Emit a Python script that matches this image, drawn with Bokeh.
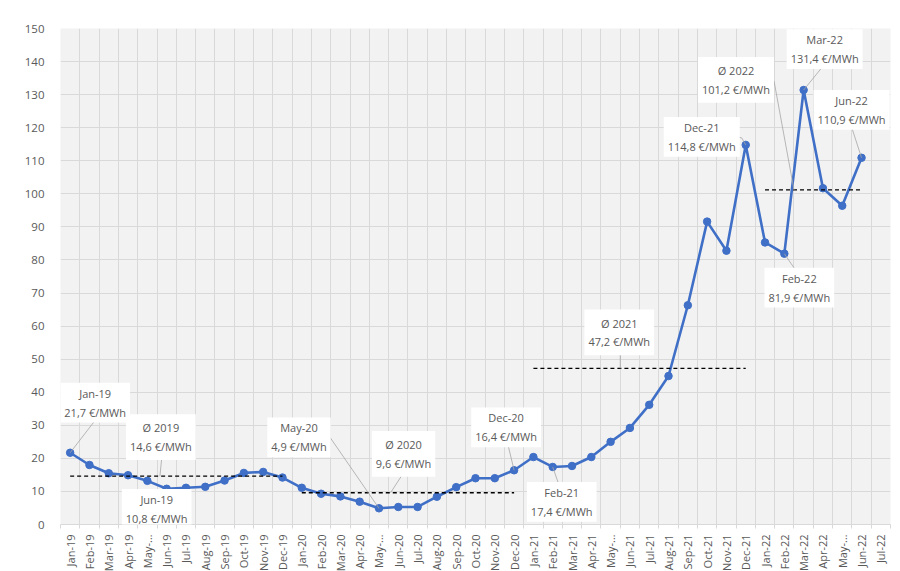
import math
from bokeh.plotting import figure
from bokeh.models import (Range1d, FixedTicker, Label, ColumnDataSource)
from bokeh.embed import file_html
from bokeh.resources import INLINE

# ---------------- data ----------------
months = ["Jan-19", "Feb-19", "Mar-19", "Apr-19", "May-19", "Jun-19", "Jul-19", "Aug-19",
          "Sep-19", "Oct-19", "Nov-19", "Dec-19",
          "Jan-20", "Feb-20", "Mar-20", "Apr-20", "May-20", "Jun-20", "Jul-20", "Aug-20",
          "Sep-20", "Oct-20", "Nov-20", "Dec-20",
          "Jan-21", "Feb-21", "Mar-21", "Apr-21", "May-21", "Jun-21", "Jul-21", "Aug-21",
          "Sep-21", "Oct-21", "Nov-21", "Dec-21",
          "Jan-22", "Feb-22", "Mar-22", "Apr-22", "May-22", "Jun-22", "Jul-22"]

# axis tick labels as shown (May labels truncated)
tick_labels = [("May-\u2026" if m.startswith("May") else m) for m in months]

prices = [21.7, 18.0, 15.5, 14.9, 13.2, 10.8, 11.1, 11.4, 13.3, 15.6, 15.9, 14.2,
          11.1, 9.3, 8.5, 6.9, 4.9, 5.3, 5.3, 8.4, 11.3, 14.0, 14.0, 16.4,
          20.4, 17.4, 17.7, 20.4, 25.0, 29.2, 36.2, 44.9, 66.3, 91.6, 82.8, 114.8,
          85.3, 81.9, 131.4, 101.7, 96.4, 110.9]

year_names = ["2019", "2020", "2021", "2022"]
year_avgs = [14.6, 9.6, 47.2, 101.2]
year_first = [0, 12, 24, 36]
year_last = [11, 23, 35, 41]

y_ticks = list(range(0, 151, 10))

# ---------------- layout ----------------
FW, FH = 830, 496
x_n = len(months)
sx = FW / x_n        # px per category
sy = FH / 150.0      # px per unit

p = figure(frame_width=FW, frame_height=FH, output_backend="svg", toolbar_location=None,
           x_range=Range1d(0, x_n), y_range=Range1d(0, 150),
           min_border_left=60, min_border_right=10, min_border_top=28, min_border_bottom=47,
           background_fill_color="#f2f2f2", border_fill_color="white",
           outline_line_color=None)

TICK_COLOR = "#595959"
FONT = "Open Sans"

# y axis
p.yaxis.ticker = FixedTicker(ticks=y_ticks)
p.yaxis.axis_line_color = None
p.yaxis.major_tick_line_color = None
p.yaxis.minor_tick_line_color = None
p.yaxis.major_label_text_color = TICK_COLOR
p.yaxis.major_label_text_font = FONT
p.yaxis.major_label_text_font_size = "11.5px"
p.yaxis.major_label_standoff = 10

# x axis
xcenters = [i + 0.5 for i in range(x_n)]
p.xaxis.ticker = FixedTicker(ticks=xcenters, minor_ticks=list(range(0, x_n + 1)))
p.xaxis.major_label_overrides = {c: m for c, m in zip(xcenters, tick_labels)}
p.xaxis.major_label_orientation = math.pi / 2
p.xaxis.axis_line_color = "#d9d9d9"
p.xaxis.major_tick_line_color = None
p.xaxis.minor_tick_line_color = "#d9d9d9"
p.xaxis.minor_tick_in = 0
p.xaxis.minor_tick_out = 4
p.xaxis.major_label_text_color = TICK_COLOR
p.xaxis.major_label_text_font = FONT
p.xaxis.major_label_text_font_size = "11px"
p.xaxis.major_label_standoff = 4

# grids
p.xgrid.ticker = FixedTicker(ticks=list(range(0, x_n + 1)))
p.xgrid.grid_line_color = "#d9d9d9"
p.ygrid.grid_line_color = "#d9d9d9"

# ---------------- series ----------------
xs = [i + 0.5 for i in range(len(prices))]
src = ColumnDataSource(dict(x=xs, y=prices))
p.line("x", "y", source=src, line_color="#3f6fc6", line_width=2.6)
p.scatter("x", "y", source=src, size=7.5, fill_color="#3f6fc6", line_color="#3f6fc6")

# yearly averages (dashed)
p.segment(x0=[year_first[k] + 0.5 for k in range(4)], y0=year_avgs,
          x1=[year_last[k] + 0.5 for k in range(4)], y1=year_avgs,
          line_color="black", line_dash="4 3", line_width=1.3)


def fmt(v):
    return ("%.1f" % v).replace(".", ",") + " \u20ac/MWh"


def month_ann(i, dx, dy, lx, ly, elbow=None):
    return (months[i] + "\n" + fmt(prices[i]), i + 0.5, prices[i], dx, dy, lx, ly, elbow, False)


def avg_ann(k, ax, dx, dy, lx, ly, elbow=None):
    return ("\u00d8 " + year_names[k] + "\n" + fmt(year_avgs[k]), ax, year_avgs[k], dx, dy, lx, ly, elbow, True)


# (box offset px from anchor, leader start px from box centre, optional elbow)
anns = [
    month_ann(0, 25, 50, 2, -15),
    avg_ann(0, 5.15, 1, 39, 1, -19),
    month_ann(5, -10, -20, 1, 14),
    month_ann(16, -80, 71, 31, 0),
    avg_ann(1, 17.1, 13, 39, 0, -19),
    month_ann(23, -8, 43, 1, -14),
    month_ann(25, 9, -35, -2, 15),
    avg_ann(2, 29.0, -1, 36, 1, -18),
    month_ann(35, -44, 8, 35, 0, (40, -1)),
    avg_ann(3, 38.0, -58, 110, 36, 0, (38, -1)),
    month_ann(38, 21, 41, 1, -14),
    month_ann(41, -10, 48, -1, -14),
    month_ann(37, 15, -34, -2, 15),
]

lx0, ly0, lx1, ly1 = [], [], [], []
for text, ax, ay, dx, dy, lx, ly, elbow, is_avg in anns:
    cx = ax + dx / sx
    cy = ay + dy / sy
    pts = [(cx + lx / sx, cy + ly / sy)]
    if elbow is not None:
        pts.append((cx + elbow[0] / sx, cy + elbow[1] / sy))
    pts.append((ax, ay))
    for a, b in zip(pts[:-1], pts[1:]):
        lx0.append(a[0]); ly0.append(a[1]); lx1.append(b[0]); ly1.append(b[1])

p.segment(x0=lx0, y0=ly0, x1=lx1, y1=ly1, line_color="#a6a6a6", line_width=0.8)

for text, ax, ay, dx, dy, lx, ly, elbow, is_avg in anns:
    lab = Label(x=ax, y=ay, x_offset=dx, y_offset=dy, text=text,
                text_align="center", text_baseline="middle",
                text_font=FONT, text_font_size="11px", text_color=TICK_COLOR,
                text_line_height=1.25,
                background_fill_color="white", background_fill_alpha=1.0,
                padding=(4, 6 if is_avg else 3))
    p.add_layout(lab)

open("out.html", "w").write(file_html(p, INLINE))
